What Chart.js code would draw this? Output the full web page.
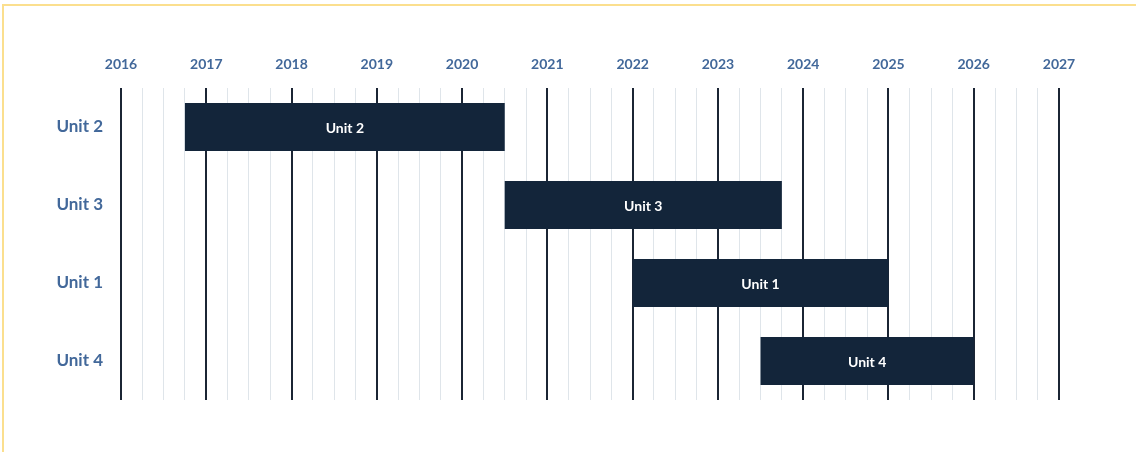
<!DOCTYPE html>
<html>
<head>
<meta charset="utf-8">
<script src="https://cdn.jsdelivr.net/npm/chart.js@4/dist/chart.umd.min.js"></script>
<style>
  html, body { margin: 0; padding: 0; background: #fff; overflow: hidden; }
  #frame { position: absolute; left: 2px; top: 4px; width: 1200px; height: 600px; border: 2px solid #fbdf8e; pointer-events: none; }
  #wrap { position: absolute; left: 0; top: 0; width: 1136px; height: 452px; }
</style>
</head>
<body>
<div id="wrap"><canvas id="gantt"></canvas></div>
<div id="frame"></div>
<script>
// datos del diagrama
const units = ["Unit 2", "Unit 3", "Unit 1", "Unit 4"];
const starts = [2016.75, 2020.5, 2022, 2023.5];
const ends = [2020.5, 2023.75, 2025, 2026];
const yearMin = 2016;
const yearMax = 2027;

const labelBlue = "#42689a";
const navy = "#13253a";

// etiquetas blancas dentro de cada barra
const barLabels = {
  id: "barLabels",
  afterDatasetsDraw(chart) {
    const ctx = chart.ctx;
    const meta = chart.getDatasetMeta(0);
    ctx.save();
    ctx.fillStyle = "#ffffff";
    ctx.font = "bold 14px Lato";
    ctx.textAlign = "center";
    ctx.textBaseline = "middle";
    meta.data.forEach((bar, i) => {
      const cx = (bar.x + bar.base) / 2;
      ctx.fillText(units[i], cx, bar.y + 1);
    });
    ctx.restore();
  }
};

new Chart(document.getElementById("gantt"), {
  type: "bar",
  data: {
    labels: units,
    datasets: [{
      data: units.map((u, i) => [starts[i], ends[i]]),
      backgroundColor: navy,
      borderWidth: 0,
      borderSkipped: false,
      barPercentage: 0.615,
      categoryPercentage: 1
    }]
  },
  options: {
    indexAxis: "y",
    responsive: true,
    maintainAspectRatio: false,
    animation: false,
    layout: { padding: { left: 0, right: 77, top: 0, bottom: 52 } },
    plugins: { legend: { display: false }, tooltip: { enabled: false } },
    scales: {
      x: {
        type: "linear",
        position: "top",
        min: yearMin,
        max: yearMax,
        afterFit: scale => { scale.height = 88; },
        afterBuildTicks: scale => {
          let t = [];
          for (let v = yearMin; v <= yearMax; v += 0.25) t.push({ value: v });
          scale.ticks = t;
        },
        ticks: {
          autoSkip: false,
          maxRotation: 0,
          padding: 15,
          color: labelBlue,
          font: { family: "Lato", weight: "bold", size: 14 },
          callback: v => (v % 1 === 0 ? String(v) : "")
        },
        grid: {
          drawTicks: false,
          color: c => (c.tick && c.tick.value % 1 === 0 ? "#1b2534" : "#dfe5ea"),
          lineWidth: c => (c.tick && c.tick.value % 1 === 0 ? 2 : 1)
        },
        border: { display: false }
      },
      y: {
        afterFit: scale => { scale.width = 121; },
        ticks: {
          padding: 10,
          color: labelBlue,
          font: { family: "Lato", weight: "bold", size: 17 }
        },
        grid: { display: false },
        border: { display: false }
      }
    }
  },
  plugins: [barLabels]
});
</script>
</body>
</html>
